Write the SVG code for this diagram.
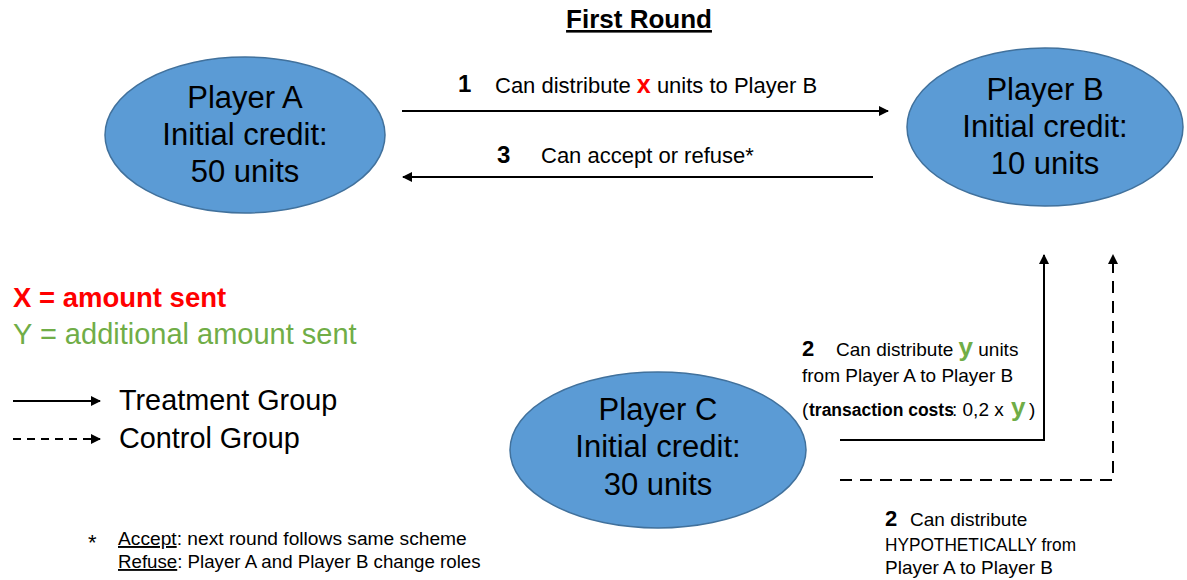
<svg xmlns="http://www.w3.org/2000/svg" width="1187" height="580" viewBox="0 0 1187 580">
<style>
text { font-family: "Liberation Sans", Arial, sans-serif; fill: #000; }
.node { fill: #5B9BD5; stroke: #41719C; stroke-width: 1.5; }
.nt { font-size: 31px; text-anchor: middle; }
.lbl { font-size: 22px; }
.sm { font-size: 19px; }
.num { font-weight: bold; font-size: 24px; }
.num2 { font-weight: bold; font-size: 22px; }
.line { stroke: #000; stroke-width: 2; fill: none; }
.dash { stroke-dasharray: 12 8; }
.red { fill: #FF0000; font-weight: bold; }
.green { fill: #70AD47; }
</style>
<defs>
<marker id="ah" viewBox="0 0 10 10" refX="9" refY="5" markerWidth="5" markerHeight="5" orient="auto" markerUnits="strokeWidth">
<path d="M0,0 L10,5 L0,10 z" fill="#000"/>
</marker>
</defs>

<text x="639" y="28" text-anchor="middle" font-size="26" font-weight="bold" text-decoration="underline">First Round</text>

<g id="playerA">
<ellipse class="node" cx="245" cy="135" rx="140" ry="78"/>
<text class="nt" x="245" y="108">Player A</text>
<text class="nt" x="245" y="145">Initial credit:</text>
<text class="nt" x="245" y="182">50 units</text>
</g>

<g id="playerB">
<ellipse class="node" cx="1045" cy="127" rx="138" ry="79"/>
<text class="nt" x="1045" y="100">Player B</text>
<text class="nt" x="1045" y="137">Initial credit:</text>
<text class="nt" x="1045" y="174">10 units</text>
</g>

<g id="playerC">
<ellipse class="node" cx="658" cy="450" rx="148" ry="78"/>
<text class="nt" x="658" y="420">Player C</text>
<text class="nt" x="658" y="457">Initial credit:</text>
<text class="nt" x="658" y="495">30 units</text>
</g>

<g id="connectors">
<line class="line" x1="402" y1="111" x2="888" y2="111" marker-end="url(#ah)"/>
<line class="line" x1="873" y1="177" x2="403" y2="177" marker-end="url(#ah)"/>
<polyline class="line" points="840,440 1044,440 1044,255" marker-end="url(#ah)"/>
<polyline class="line dash" points="840,480 1113,480 1113,255" marker-end="url(#ah)"/>
</g>

<g id="labels">
<text class="num" x="458" y="92">1</text>
<text class="lbl" x="495" y="93">Can distribute <tspan class="red" font-size="25">x</tspan> units to Player B</text>
<text class="num" x="497" y="163">3</text>
<text class="lbl" x="541" y="163">Can accept or refuse*</text>

<text class="num2" x="802" y="356">2</text>
<text class="sm" x="836" y="356">Can distribute <tspan class="green" font-weight="bold" font-size="26">y</tspan> units</text>
<text class="sm" x="802" y="382">from Player A to Player B</text>
<text class="sm" x="802" y="416">(</text>
<text x="809" y="416" font-size="17.5" font-weight="bold">transaction costs</text>
<text class="sm" x="952" y="416">: 0,2 x</text>
<text x="1011" y="416" font-size="26" font-weight="bold" style="fill:#70AD47">y</text>
<text class="sm" x="1029" y="416">)</text>

<text class="num2" x="885" y="526">2</text>
<text class="sm" x="910" y="526">Can distribute</text>
<text class="sm" x="885" y="551" textLength="191" lengthAdjust="spacingAndGlyphs">HYPOTHETICALLY from</text>
<text class="sm" x="885" y="574">Player A to Player B</text>
</g>

<g id="legend">
<text x="13" y="307" font-size="27.5" font-weight="bold" style="fill:#FF0000">X = amount sent</text>
<text x="13" y="344" font-size="29" style="fill:#70AD47">Y = additional amount sent</text>
<line class="line" x1="13" y1="401" x2="100" y2="401" marker-end="url(#ah)"/>
<text x="119" y="410" font-size="28.8">Treatment Group</text>
<line class="line" x1="13" y1="439" x2="100" y2="439" stroke-dasharray="8 6" marker-end="url(#ah)"/>
<text x="119" y="448" font-size="28.8">Control Group</text>
</g>

<g id="footnote">
<text x="88" y="550" font-size="22">*</text>
<text x="118" y="545" font-size="19.2"><tspan text-decoration="underline">Accept</tspan>: next round follows same scheme</text>
<text x="118" y="568" font-size="18.7"><tspan text-decoration="underline">Refuse</tspan>: Player A and Player B change roles</text>
</g>
</svg>
